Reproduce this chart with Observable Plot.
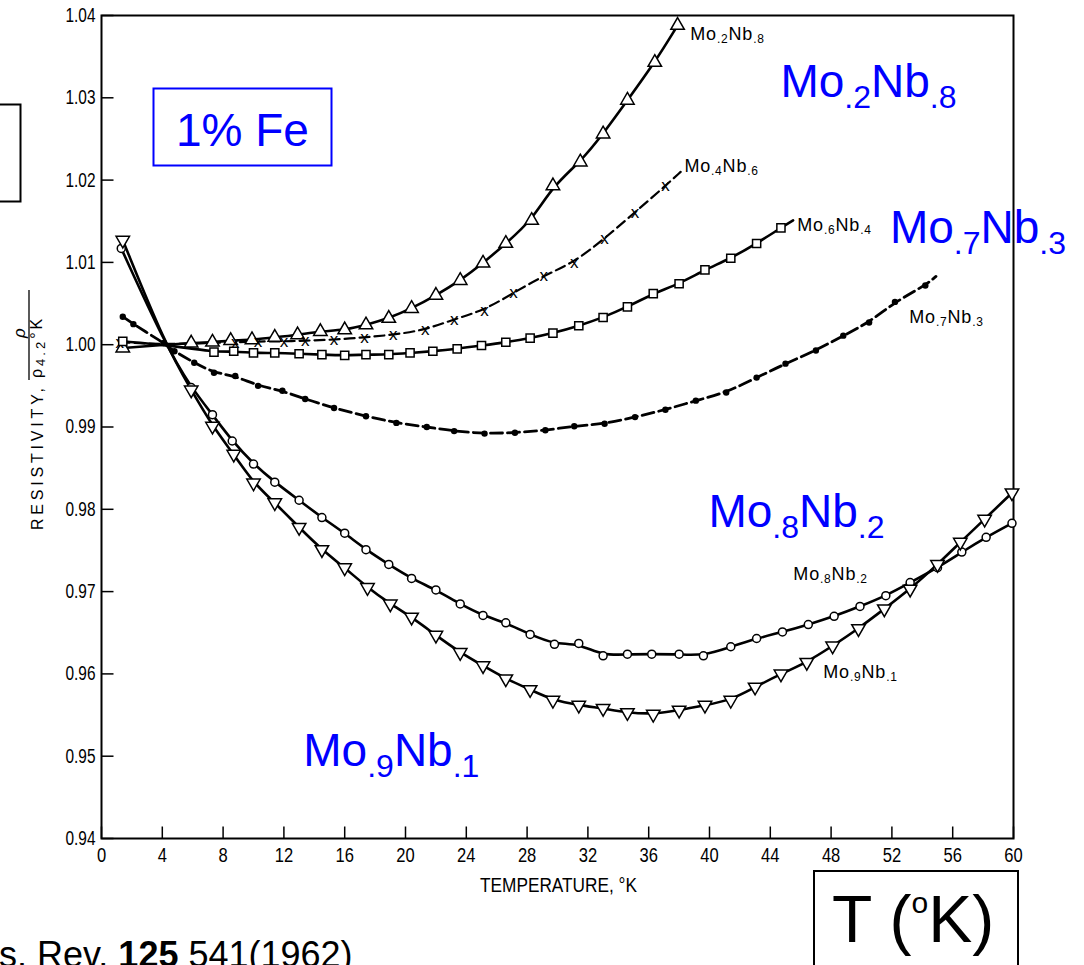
<!DOCTYPE html>
<html><head><meta charset="utf-8">
<script src="https://cdn.jsdelivr.net/npm/d3@7"></script>
<script src="https://cdn.jsdelivr.net/npm/@observablehq/plot@0.6"></script>
<style>
html,body{margin:0;padding:0;background:#fff;}
#chart{position:relative;width:1084px;height:965px;overflow:hidden;}
</style></head><body><div id="chart"></div>
<script>
// ---------- data (T in K, rho/rho4.2K) ----------
const xTickValues = [0, 4, 8, 12, 16, 20, 24, 28, 32, 36, 40, 44, 48, 52, 56, 60];
const yTickValues = [0.94, 0.95, 0.96, 0.97, 0.98, 0.99, 1.00, 1.01, 1.02, 1.03, 1.04];

// normalisation point: rho/rho(4.2K) = 1 at T = 4.2 K (all curves pass through it)
const normT = 4.2, normV = 1.0;

const mo2nb8 = [[1.4,0.9996],[5.9,1.0002],[7.3,1.0003],[8.5,1.0005],[9.9,1.0006],[11.4,1.0009],[12.9,1.0012],[14.4,1.0016],[16.0,1.0018],[17.4,1.0024],[18.9,1.0032],[20.4,1.0044],[22.0,1.0060],[23.6,1.0078],[25.1,1.0099],[26.6,1.0123],[28.3,1.0151],[29.7,1.0193],[31.5,1.0222],[33.0,1.0256],[34.6,1.0297],[36.4,1.0343],[37.9,1.0388]];
const mo4nb6 = [[1.2,1.0003],[8.8,1.0003],[10.3,1.0004],[12.0,1.0004],[13.4,1.0005],[15.3,1.0006],[17.3,1.0009],[19.2,1.0012],[21.3,1.0018],[23.2,1.0031],[25.2,1.0042],[27.1,1.0063],[29.1,1.0084],[31.1,1.0100],[33.1,1.0129],[35.1,1.0161],[37.1,1.0193]];
const mo6nb4 = [[1.4,1.0004],[7.4,0.9991],[8.7,0.9992],[10.0,0.9990],[11.4,0.9990],[13.0,0.9989],[14.5,0.9988],[16.0,0.9987],[17.4,0.9988],[18.9,0.9988],[20.3,0.9990],[21.8,0.9992],[23.4,0.9995],[25.0,0.9999],[26.6,1.0003],[28.2,1.0008],[29.7,1.0014],[31.4,1.0023],[33.0,1.0033],[34.6,1.0046],[36.3,1.0062],[38.0,1.0074],[39.7,1.0091],[41.4,1.0105],[43.1,1.0123],[44.7,1.0142]];
const mo7nb3 = [[1.4,1.0034],[2.1,1.0025],[4.1,1.0002],[4.8,0.9992],[6.1,0.9978],[7.4,0.9966],[8.8,0.9962],[10.3,0.9950],[11.9,0.9944],[13.4,0.9934],[15.3,0.9923],[17.4,0.9913],[19.4,0.9905],[21.4,0.9900],[23.2,0.9895],[25.2,0.9892],[27.2,0.9893],[29.2,0.9896],[31.1,0.9901],[33.1,0.9904],[35.1,0.9912],[37.1,0.9921],[39.1,0.9932],[41.1,0.9942],[43.1,0.9960],[45.0,0.9977],[47.0,0.9993],[48.8,1.0011],[50.5,1.0027],[52.2,1.0052],[54.2,1.0072]];
const mo8nb2 = [[1.3,1.0117],[5.9,0.9948],[7.3,0.9915],[8.6,0.9883],[10.0,0.9855],[11.4,0.9833],[13.0,0.9811],[14.5,0.9790],[16.0,0.9771],[17.4,0.9751],[18.9,0.9733],[20.4,0.9716],[22.0,0.9702],[23.6,0.9685],[25.1,0.9671],[26.6,0.9662],[28.2,0.9648],[29.8,0.9636],[31.4,0.9637],[33.0,0.9622],[34.6,0.9624],[36.2,0.9624],[38.0,0.9624],[39.6,0.9622],[41.4,0.9633],[43.1,0.9643],[44.8,0.9651],[46.5,0.9660],[48.2,0.9670],[49.9,0.9682],[51.6,0.9695],[53.2,0.9711],[55.0,0.9729],[56.6,0.9748],[58.2,0.9766],[59.9,0.9783]];
const mo9nb1 = [[1.4,1.0127],[5.9,0.9945],[7.3,0.9901],[8.7,0.9867],[10.0,0.9832],[11.4,0.9808],[13.0,0.9778],[14.5,0.9751],[16.0,0.9729],[17.5,0.9705],[19.0,0.9685],[20.4,0.9669],[22.0,0.9647],[23.6,0.9626],[25.1,0.9610],[26.6,0.9594],[28.2,0.9581],[29.7,0.9568],[31.4,0.9562],[33.0,0.9558],[34.6,0.9553],[36.3,0.9551],[38.0,0.9556],[39.7,0.9562],[41.4,0.9568],[43.0,0.9584],[44.7,0.9600],[46.4,0.9614],[48.1,0.9634],[49.8,0.9655],[51.5,0.9679],[53.2,0.9703],[55.0,0.9733],[56.5,0.9760],[58.1,0.9788],[59.9,0.9820]];

// where the drawn curves run on past their last plotted symbol (toward their labels)
const mo4nb6LineEnd = [38.1, 1.0210];
const mo6nb4LineEnd = [45.5, 1.0151];
const mo7nb3LineEnd = [54.9, 1.0083];

// curve labels (black, small) and slide annotations (blue, large): text, T, value
const curveLabelText = ["Mo_{.2}Nb_{.8}", "Mo_{.4}Nb_{.6}", "Mo_{.6}Nb_{.4}", "Mo_{.7}Nb_{.3}", "Mo_{.8}Nb_{.2}", "Mo_{.9}Nb_{.1}"];
const curveLabelT = [38.77, 38.38, 45.81, 53.18, 45.55, 47.52];
const curveLabelV = [1.0370, 1.0209, 1.0138, 1.0026, 0.9713, 0.9594];
const blueLabelText = ["Mo_{.2}Nb_{.8}", "Mo_{.7}Nb_{.3}", "Mo_{.8}Nb_{.2}", "Mo_{.9}Nb_{.1}"];
const blueLabelT = [44.7, 51.9, 39.96, 13.31];
const blueLabelV = [1.0300, 1.0123, 0.9778, 0.9488];

const xAxisLabel = "TEMPERATURE, °K";
const yAxisLabel = "RESISTIVITY,";
const boxNote = "1% Fe";
const citation = ["s. Rev. ", "125", " 541(1962)"];

// ---------- build ----------
const SANS = '"Liberation Sans",Arial,Helvetica,sans-serif';
const rows = a => a.map(([T, v]) => ({T, v}));
const lineRows = (a, end) => rows(end ? a.concat([end]) : a)
  .concat([{T: normT, v: normV}]).sort((p, q) => p.T - q.T);

const tickUp = {draw(ctx) { ctx.moveTo(0, 0); ctx.lineTo(0, -12); }};
const tickRight = {draw(ctx) { ctx.moveTo(0, 0); ctx.lineTo(12, 0); }};

const lineOpts = {x: "T", y: "v", curve: "basis", stroke: "black", strokeWidth: 2.6};
const mk = {x: "T", y: "v", stroke: "black", strokeWidth: 1.5, fill: "white"};

const plot = Plot.plot({
  width: 1084, height: 965,
  marginLeft: 101, marginRight: 71, marginTop: 15, marginBottom: 127,
  style: {fontFamily: SANS, fontSize: "20px", color: "black", background: "white"},
  x: {domain: [0, 60]},
  y: {domain: [0.94, 1.04]},
  marks: [
    Plot.frame({stroke: "black", strokeWidth: 2}),
    Plot.axisX(xTickValues, {tickSize: 0, tickPadding: 9, label: null, tickFormat: d => String(d)}),
    Plot.axisY(yTickValues, {tickSize: 0, tickPadding: 6, label: null, tickFormat: d3.format(".2f")}),
    Plot.dot(xTickValues, {x: d => d, frameAnchor: "bottom", symbol: tickUp, fill: "none", stroke: "black", strokeWidth: 1.5}),
    Plot.dot(yTickValues, {y: d => d, frameAnchor: "left", symbol: tickRight, fill: "none", stroke: "black", strokeWidth: 1.5}),

    Plot.line(lineRows(mo2nb8), lineOpts),
    Plot.line(lineRows(mo4nb6, mo4nb6LineEnd), {...lineOpts, strokeWidth: 2.2, strokeDasharray: "10 5"}),
    Plot.line(lineRows(mo6nb4, mo6nb4LineEnd), lineOpts),
    Plot.line(lineRows(mo7nb3, mo7nb3LineEnd), {...lineOpts, strokeWidth: 2.8, strokeDasharray: "12 5"}),
    Plot.line(lineRows(mo8nb2), lineOpts),
    Plot.line(lineRows(mo9nb1), lineOpts),

    Plot.dot(rows(mo2nb8), {...mk, symbol: "triangle", r: 5}),
    Plot.text(rows(mo4nb6), {x: "T", y: "v", text: () => "x", fontSize: 17, fontFamily: SANS, fill: "black"}),
    Plot.dot(rows(mo6nb4), {...mk, symbol: "square", r: 4.6}),
    Plot.dot(rows(mo7nb3), {x: "T", y: "v", r: 3.2, fill: "black"}),
    Plot.dot(rows(mo8nb2), {...mk, symbol: "circle", r: 4}),
    Plot.dot(rows(mo9nb1), {...mk, symbol: "triangle", r: 5, rotate: 180})
  ]
});
document.getElementById("chart").appendChild(plot);

const sx = plot.scale("x"), sy = plot.scale("y");
const svg = d3.select(plot);

// tick label typography (condensed figures as in the scan)
svg.selectAll('g[aria-label="x-axis tick label"] text')
  .attr("font-size", 20).attr("font-family", SANS)
  .attr("textLength", function() { return this.textContent.length * 9.2; })
  .attr("lengthAdjust", "spacingAndGlyphs");
svg.selectAll('g[aria-label="y-axis tick label"] text')
  .attr("font-size", 20).attr("font-family", SANS)
  .attr("textLength", 30).attr("lengthAdjust", "spacingAndGlyphs");

function parseRich(s) {
  const parts = [];
  const re = /_\{([^}]*)\}|\^\{([^}]*)\}|([^_^]+)/g;
  let m;
  while ((m = re.exec(s))) {
    if (m[1] !== undefined) parts.push({t: m[1], k: "sub"});
    else if (m[2] !== undefined) parts.push({t: m[2], k: "sup"});
    else parts.push({t: m[3], k: "n"});
  }
  return parts;
}
function rich(g, x, y, s, {size, subSize, shift, family, fill, spacing = 0, weight = "normal", anchor = "start"}) {
  const t = g.append("text").attr("x", x).attr("y", y).attr("text-anchor", anchor)
    .attr("font-family", family).attr("font-size", size).attr("fill", fill)
    .attr("font-weight", weight).attr("letter-spacing", spacing);
  let off = 0;
  for (const p of parseRich(s)) {
    const want = p.k === "sub" ? shift : p.k === "sup" ? -shift : 0;
    t.append("tspan").attr("dy", want - off)
      .attr("font-size", p.k === "n" ? size : subSize).text(p.t);
    off = want;
  }
  return t;
}

const ann = svg.append("g").attr("text-anchor", "start");
curveLabelText.forEach((s, i) =>
  rich(ann, sx.apply(curveLabelT[i]), sy.apply(curveLabelV[i]), s,
       {size: 18, subSize: 12, shift: 3, family: SANS, fill: "black", spacing: 0.8}));
blueLabelText.forEach((s, i) =>
  rich(ann, sx.apply(blueLabelT[i]), sy.apply(blueLabelV[i]), s,
       {size: 46, subSize: 32, shift: 11, family: SANS, fill: "#0000ff"}));

// x axis title
svg.append("text").attr("x", 480).attr("y", 892).attr("text-anchor", "start")
  .attr("font-family", SANS).attr("font-size", 20)
  .attr("textLength", 157).attr("lengthAdjust", "spacingAndGlyphs")
  .text(xAxisLabel);

// y axis title (rotated) with fraction rho / rho_{4.2 K}
const yl = svg.append("g").attr("transform", "translate(43,530) rotate(-90)").attr("text-anchor", "start");
yl.append("text").attr("x", 0).attr("y", 0).attr("text-anchor", "start")
  .attr("font-family", SANS).attr("font-size", 16)
  .attr("textLength", 142).attr("lengthAdjust", "spacing").text(yAxisLabel);
yl.append("line").attr("x1", 150).attr("x2", 240).attr("y1", -14).attr("y2", -14)
  .attr("stroke", "black").attr("stroke-width", 1.3);
yl.append("text").attr("x", 197).attr("y", -18).attr("text-anchor", "middle").attr("font-family", SANS)
  .attr("font-size", 17).attr("font-style", "italic").text("ρ");
rich(yl, 152, -1, "ρ_{4.2}°K", {size: 16, subSize: 13, shift: 3, family: SANS, fill: "black", spacing: 3});

// slide boxes
svg.append("rect").attr("x", 153.5).attr("y", 88.5).attr("width", 178).attr("height", 77)
  .attr("fill", "none").attr("stroke", "#0000ff").attr("stroke-width", 2);
svg.append("text").attr("x", 176).attr("y", 145.5).attr("text-anchor", "start").attr("font-family", SANS)
  .attr("font-size", 46).attr("fill", "#0000ff").text(boxNote);

svg.append("rect").attr("x", -20).attr("y", 104.5).attr("width", 40.5).attr("height", 97)
  .attr("fill", "none").attr("stroke", "black").attr("stroke-width", 2);

svg.append("rect").attr("x", 814).attr("y", 871).attr("width", 204).attr("height", 140)
  .attr("fill", "none").attr("stroke", "black").attr("stroke-width", 2);
rich(svg, 832, 942, "T (^{o}K)", {size: 66, subSize: 30, shift: 29, family: SANS, fill: "black"});

const cit = svg.append("text").attr("x", -1).attr("y", 967).attr("text-anchor", "start")
  .attr("font-family", SANS).attr("font-size", 36).attr("fill", "black");
cit.append("tspan").text(citation[0]);
cit.append("tspan").attr("font-weight", "bold").text(citation[1]);
cit.append("tspan").text(citation[2]);
</script></body></html>
